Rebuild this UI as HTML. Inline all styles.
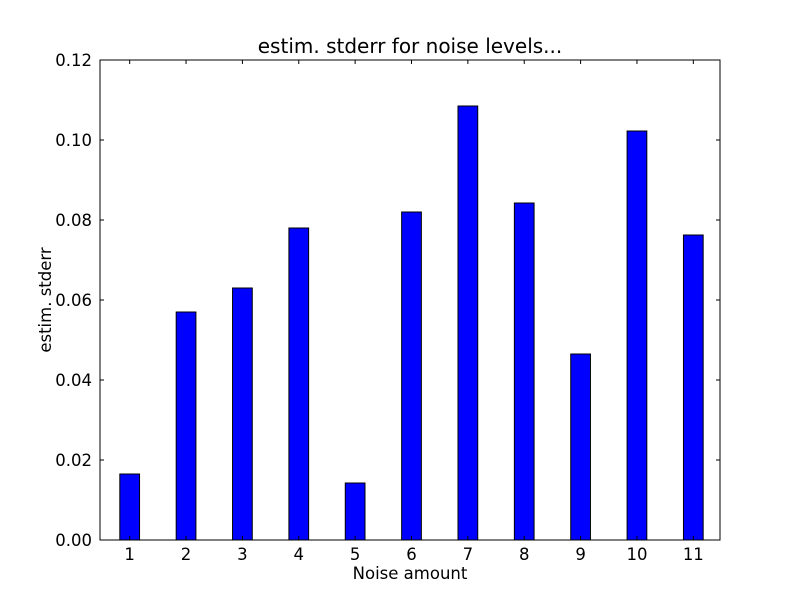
<!DOCTYPE html>
<html><head><meta charset="utf-8"><style>body{margin:0;background:#fff}svg{display:block;font-family:"DejaVu Sans","Liberation Sans",sans-serif}</style></head>
<body>
<svg id="chart" width="800" height="600" xmlns="http://www.w3.org/2000/svg">
<rect width="800" height="600" fill="#fff"/>
<text x="410" y="53" font-size="20" text-anchor="middle">estim. stderr for noise levels...</text>
<text x="410" y="579" font-size="16.5" text-anchor="middle">Noise amount</text>
<text x="51" y="300" font-size="16.5" text-anchor="middle" transform="rotate(-90 51 300)">estim. stderr</text>
<g id="bars"></g><g id="ticks"></g>
<rect x="100" y="60" width="620" height="480" fill="none" stroke="#000" stroke-width="1"/>
</svg>
<script>
const categories = [1,2,3,4,5,6,7,8,9,10,11];
const values = [0.0165,0.057,0.063,0.078,0.01425,0.082,0.1085,0.08425,0.0465,0.10225,0.07625];
const yTicks = [0,0.02,0.04,0.06,0.08,0.10,0.12];
const yTickLabels = ["0.00","0.02","0.04","0.06","0.08","0.10","0.12"];
const L=100,R=720,T=60,B=540,xmin=0.5,xmax=11.5,ymax=0.12,bw=0.35,barShift=1.5;
const xs=v=>L+(v-xmin)/(xmax-xmin)*(R-L);
const ys=v=>B-v/ymax*(B-T);
const NS="http://www.w3.org/2000/svg";
const bars=document.getElementById('bars'),ticks=document.getElementById('ticks');
function mk(tag,a,p){const e=document.createElementNS(NS,tag);for(const k in a)e.setAttribute(k,a[k]);p.appendChild(e);return e;}
categories.forEach((c,i)=>{
 const x0=xs(c-bw/2)+barShift,x1=xs(c+bw/2)+barShift;
 const r=mk('rect',{x:x0,y:ys(values[i]),width:x1-x0,height:B-ys(values[i]),fill:'#0000ff',stroke:'#000','stroke-width':1},bars);
 
 
 const xp=xs(c)+barShift;
 mk('line',{x1:xp,x2:xp,y1:B,y2:B-4,stroke:'#000'},ticks);
 mk('line',{x1:xp,x2:xp,y1:T,y2:T+4,stroke:'#000'},ticks);
 const t=mk('text',{x:xp,y:B+20,'font-size':16.5,'text-anchor':'middle'},ticks);
 t.textContent=c;
 
 
});
yTicks.forEach((v,i)=>{
 const yp=ys(v);
 mk('line',{x1:L,x2:L+4,y1:yp,y2:yp,stroke:'#000'},ticks);
 mk('line',{x1:R,x2:R-4,y1:yp,y2:yp,stroke:'#000'},ticks);
 const t=mk('text',{x:L-8,y:yp+6,'font-size':16.5,'text-anchor':'end'},ticks);
 t.textContent=yTickLabels[i];
 
 
});
</script>
</body></html>
